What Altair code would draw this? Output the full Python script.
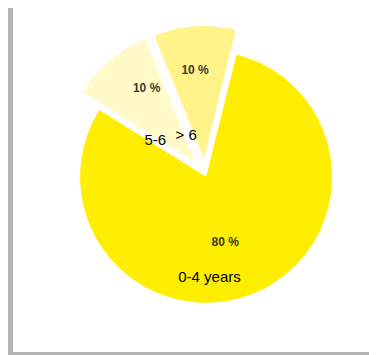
import altair as alt
import pandas as pd

# ---- data ----
categories = ["0-4 years", "5-6", "> 6"]
values = [80, 10, 10]
pct_labels = ["80 %", "10 %", "10 %"]

# ---- styling / layout (not data) ----
colors = ["#FFEE00", "#FFFAC8", "#FFF38A"]
explode = [3, 16, 16]          # px shift of each slice along its bisector
radii = [126, 132, 132]        # outer radius per slice
pct_dist = [68, 88, 88]        # % label distance from slice apex
pct_shift = [0.10, 0.12, -0.03]  # % label angle shift (rad)
cat_dist = [100, 45, 29]       # category label distance
cat_shift = [0.35, -0.37, -0.59]  # category label angle shift (rad)
start_angle = 0.2443           # rotation of the first slice (rad)
CX, CY = 197, 166              # pie centre in chart px
W, H = 361, 347

df = pd.DataFrame({
    "cat": categories, "v": values, "pct": pct_labels, "order": range(len(categories)),
    "d": explode, "r": radii, "pd": pct_dist, "ps": pct_shift, "cd": cat_dist, "cs": cat_shift,
})

base = alt.Chart(df).transform_joinaggregate(
    total="sum(v)"
).transform_window(
    cum="sum(v)", frame=[None, 0], sort=[{"field": "order"}]
).transform_calculate(
    a1=f"{start_angle} + 2*PI*datum.cum/datum.total"
).transform_calculate(
    a0="datum.a1 - 2*PI*datum.v/datum.total"
).transform_calculate(
    mid="(datum.a0 + datum.a1)/2"
).transform_calculate(
    cx=f"{CX} + datum.d*sin(datum.mid)",
    cy=f"{CY} - datum.d*cos(datum.mid)",
).transform_calculate(
    px="datum.cx + datum.pd*sin(datum.mid + datum.ps)",
    py="datum.cy - datum.pd*cos(datum.mid + datum.ps)",
    lx="datum.cx + datum.cd*sin(datum.mid + datum.cs)",
    ly="datum.cy - datum.cd*cos(datum.mid + datum.cs)",
)

arcs = base.mark_arc(stroke=None).encode(
    theta=alt.Theta("a0:Q", scale=None, stack=None),
    theta2=alt.Theta2("a1:Q"),
    radius=alt.Radius("r:Q", scale=None),
    x=alt.X("cx:Q", scale=None, axis=None),
    y=alt.Y("cy:Q", scale=None, axis=None),
    color=alt.Color("cat:N", scale=alt.Scale(domain=categories, range=colors), legend=None),
)

pct_text = base.mark_text(
    font="Liberation Sans", fontSize=12, fontWeight="bold", color="#3a3a32",
    align="center", baseline="middle",
).encode(
    x=alt.X("px:Q", scale=None, axis=None),
    y=alt.Y("py:Q", scale=None, axis=None),
    text="pct:N",
)

cat_text = base.mark_text(
    font="Liberation Sans", fontSize=15, color="#000000",
    align="center", baseline="middle",
).encode(
    x=alt.X("lx:Q", scale=None, axis=None),
    y=alt.Y("ly:Q", scale=None, axis=None),
    text="cat:N",
)

frame_data = alt.Data(values=[{}])
left_bar = alt.Chart(frame_data).mark_rect(color="#B4B4B4").encode(
    x=alt.value(0), x2=alt.value(5), y=alt.value(0), y2=alt.value(H)
)
bottom_bar = alt.Chart(frame_data).mark_rect(color="#B4B4B4").encode(
    x=alt.value(0), x2=alt.value(W), y=alt.value(H - 3), y2=alt.value(H)
)

chart = alt.layer(arcs, pct_text, cat_text, left_bar, bottom_bar).properties(
    width=W, height=H, padding=0, autosize=alt.AutoSizeParams(type="none"),
    background="white",
).configure_view(stroke=None)

chart.save("out.html", embed_options={"renderer": "svg", "actions": False})
